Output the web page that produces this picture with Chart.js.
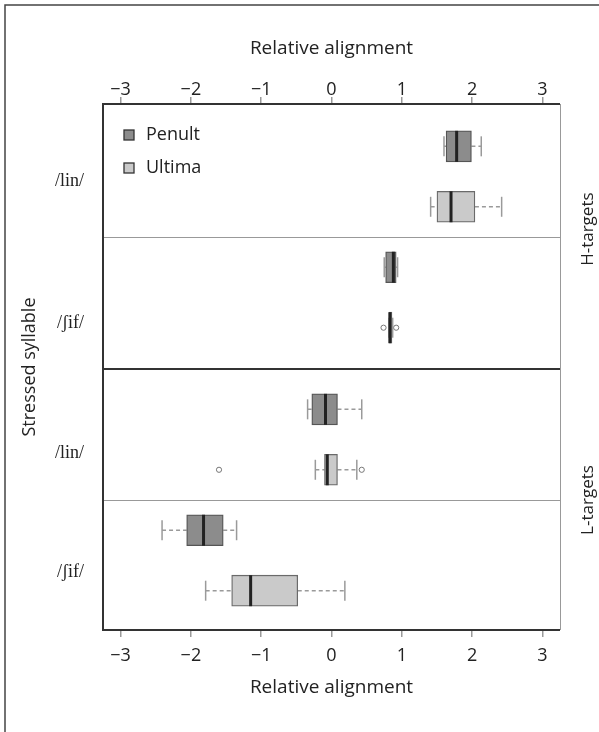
<!DOCTYPE html>
<html><head><meta charset="utf-8">
<script src="https://cdn.jsdelivr.net/npm/chart.js@4/dist/chart.umd.min.js"></script>
<style>html,body{margin:0;padding:0;background:#fff;}canvas{display:block;}</style>
</head><body>
<canvas id="c" width="599" height="732"></canvas>
<script>
// ---- data ----
const groups = ['/lin/', '/\u0283if/', '/lin/', '/\u0283if/'];
const panels = ['H-targets', 'L-targets'];
const series = ['Penult', 'Ultima'];
const xTicks = [-3, -2, -1, 0, 1, 2, 3];

const penultMin = [1.60, 0.75, -0.34, -2.41];
const penultQ1  = [1.63, 0.77, -0.28, -2.06];
const penultMed = [1.78, 0.88, -0.085, -1.82];
const penultQ3  = [1.99, 0.92, 0.085, -1.54];
const penultMax = [2.13, 0.94, 0.43, -1.35];
const penultOut = [[], [], [], []];

const ultimaMin = [1.41, 0.82, -0.23, -1.79];
const ultimaQ1  = [1.50, 0.82, -0.10, -1.42];
const ultimaMed = [1.70, 0.83, -0.06, -1.15];
const ultimaQ3  = [2.04, 0.86, 0.085, -0.48];
const ultimaMax = [2.42, 0.87, 0.36, 0.19];
const ultimaOut = [[], [0.74, 0.92], [-1.60, 0.43], []];

// ---- layout helpers ----
const FONT = "'Open Sans', 'Noto Sans', sans-serif";
const rowPos = (g, s) => 1 + g * 2 + s + (g >= 2 ? 0.35 : 0);
const groupLabelPos = [1.58, 3.92, 6.07, 8.05];
const panelLabelPos = [2.37, 6.85];
const thinSeps = [2.5, 6.85];
const panelSep = 4.675;

const stats = [
  {min: penultMin, q1: penultQ1, med: penultMed, q3: penultQ3, max: penultMax, out: penultOut,
   fill: '#8c8c8c', edge: '#555555'},
  {min: ultimaMin, q1: ultimaQ1, med: ultimaMed, q3: ultimaQ3, max: ultimaMax, out: ultimaOut,
   fill: '#cacaca', edge: '#6a6a6a'}
];

const datasets = [];
stats.forEach((st, s) => {
  datasets.push({
    type: 'scatter', label: series[s] + ' median', order: 0,
    data: st.med.map((v, g) => ({x: v, y: rowPos(g, s)})),
    pointStyle: 'line', rotation: 90, radius: 15.5, borderWidth: 3,
    borderColor: '#222', backgroundColor: '#222'
  });
  const outPts = [];
  st.out.forEach((arr, g) => arr.forEach(v => outPts.push({x: v, y: rowPos(g, s)})));
  datasets.push({
    type: 'scatter', label: series[s] + ' outliers', order: 1, data: outPts,
    pointStyle: 'circle', radius: 2.6, borderWidth: 1, borderColor: '#777', backgroundColor: '#fff'
  });
  const caps = [];
  st.min.forEach((v, g) => { caps.push({x: v, y: rowPos(g, s)}); caps.push({x: st.max[g], y: rowPos(g, s)}); });
  datasets.push({
    type: 'scatter', label: series[s] + ' caps', order: 2, data: caps,
    pointStyle: 'line', rotation: 90, radius: 10, borderWidth: 1.5, borderColor: '#9a9a9a'
  });
  datasets.push({
    type: 'bar', label: series[s], order: 3, grouped: false,
    data: st.q1.map((v, g) => ({x: [v, st.q3[g]], y: rowPos(g, s)})),
    backgroundColor: st.fill, borderColor: st.edge, borderWidth: 1.3, borderSkipped: false,
    barThickness: 31
  });
  const wh = [];
  st.min.forEach((v, g) => {
    const y = rowPos(g, s);
    wh.push({x: v, y}, {x: st.q1[g], y}, {x: null, y: null});
    wh.push({x: st.q3[g], y}, {x: st.max[g], y}, {x: null, y: null});
  });
  datasets.push({
    type: 'scatter', label: series[s] + ' whiskers', order: 4, data: wh, showLine: true,
    spanGaps: false, pointRadius: 0, borderColor: '#9a9a9a', borderWidth: 1.5, borderDash: [4, 3]
  });
});

const framePlugin = {
  id: 'frame',
  afterDraw(chart) {
    const {ctx, chartArea: a, scales} = chart;
    const ys = scales.y;
    ctx.save();
    ctx.strokeStyle = '#444'; ctx.lineWidth = 1.5;
    ctx.beginPath(); ctx.moveTo(5, 732); ctx.lineTo(5, 5); ctx.lineTo(599, 5); ctx.stroke();
    ctx.strokeStyle = '#999'; ctx.lineWidth = 1;
    thinSeps.forEach(v => { const y = Math.round(ys.getPixelForValue(v)) + 0.5;
      ctx.beginPath(); ctx.moveTo(a.left, y); ctx.lineTo(a.right, y); ctx.stroke(); });
    ctx.beginPath(); ctx.moveTo(a.right + 0.5, a.top); ctx.lineTo(a.right + 0.5, a.bottom); ctx.stroke();
    ctx.strokeStyle = '#333'; ctx.lineWidth = 2;
    const ps = Math.round(ys.getPixelForValue(panelSep));
    ctx.beginPath();
    ctx.moveTo(a.right, a.top); ctx.lineTo(a.left, a.top); ctx.lineTo(a.left, a.bottom); ctx.lineTo(a.right, a.bottom);
    ctx.moveTo(a.left, ps); ctx.lineTo(a.right, ps);
    ctx.stroke();
    ctx.font = '18px ' + FONT; ctx.textBaseline = 'middle'; ctx.textAlign = 'left';
    stats.forEach((st, s) => {
      const ly = a.top + 31 + s * 33;
      ctx.fillStyle = st.fill; ctx.fillRect(a.left + 21, ly - 5, 10, 10);
      ctx.strokeStyle = '#333'; ctx.lineWidth = 1.3; ctx.strokeRect(a.left + 21, ly - 5, 10, 10);
      ctx.fillStyle = '#222'; ctx.fillText(series[s], a.left + 43, ly);
    });
    ctx.font = '17px ' + FONT;
    panels.forEach((p, i) => {
      ctx.save();
      ctx.translate(588, ys.getPixelForValue(panelLabelPos[i]));
      ctx.rotate(-Math.PI / 2);
      ctx.textAlign = 'center'; ctx.textBaseline = 'middle'; ctx.fillStyle = '#222';
      ctx.fillText(p, 0, 0);
      ctx.restore();
    });
    ctx.restore();
  }
};

const axisCommon = (pos) => ({
  type: 'linear', position: pos, min: -3.25, max: 3.25, offset: false,
  afterBuildTicks: s => { s.ticks = xTicks.map(v => ({value: v})); },
  ticks: { callback: v => (v < 0 ? '\u2212' + Math.abs(v) : String(v)),
           font: {family: FONT, size: 18}, color: '#222', padding: pos === 'top' ? -4 : 8,
           maxRotation: 0, autoSkip: false },
  grid: { drawOnChartArea: false, drawTicks: true, tickLength: 7, color: '#9a9a9a', lineWidth: 1.5 },
  border: { display: false },
  title: { display: true, text: 'Relative alignment', font: {family: FONT, size: 19}, color: '#222',
           padding: pos === 'top' ? {top: 37, bottom: 0} : {top: 0, bottom: 33} },
  afterFit: s => { s.height = pos === 'top' ? 104 : 102; }
});

new Chart(document.getElementById('c'), {
  data: { datasets },
  options: {
    indexAxis: 'y',
    responsive: false, animation: false,
    layout: { padding: {left: 0, right: 39, top: 0, bottom: 0} },
    plugins: { legend: {display: false}, tooltip: {enabled: false} },
    scales: {
      x: axisCommon('bottom'),
      x2: axisCommon('top'),
      y: {
        type: 'linear', position: 'left', min: 0.3, max: 9, reverse: true, offset: false,
        afterBuildTicks: s => { s.ticks = groupLabelPos.map(v => ({value: v})); },
        ticks: { callback: (v, i) => groups[i], font: {family: "'Liberation Serif', serif", size: 18},
                 color: '#222', padding: 11, autoSkip: false },
        grid: { display: false }, border: { display: false },
        title: { display: true, text: 'Stressed syllable', font: {family: FONT, size: 18}, color: '#222',
                 padding: {top: 19, bottom: 0} },
        afterFit: s => { s.width = 103; }
      }
    }
  },
  plugins: [framePlugin]
});
</script></body></html>
